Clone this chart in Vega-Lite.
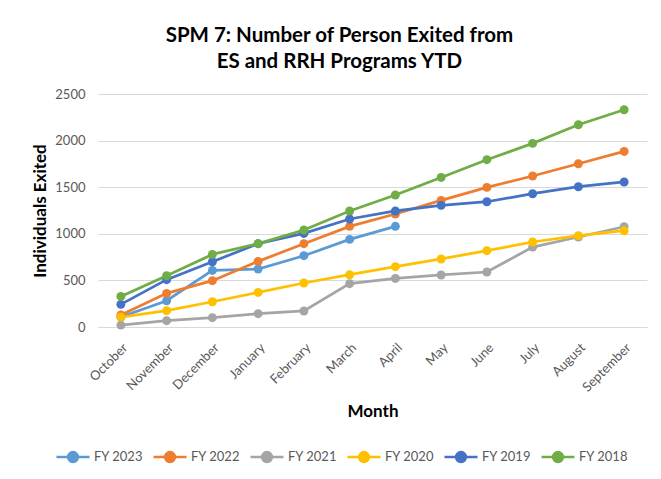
{
  "$schema": "https://vega.github.io/schema/vega-lite/v6.json",
  "width": 549,
  "height": 233,
  "autosize": {"type": "none"},
  "padding": {"left": 98, "top": 94, "right": 14, "bottom": 152},
  "background": "white",
  "title": {
    "text": ["SPM 7: Number of Person Exited from", "ES and RRH Programs YTD"],
    "frame": "bounds",
    "anchor": "middle",
    "font": "Lato",
    "fontSize": 20.5,
    "fontWeight": "bold",
    "color": "#000000",
    "lineHeight": 26,
    "offset": 16
  },
  "config": {
    "view": {"stroke": null},
    "font": "Lato"
  },
  "data": {
    "values": [
      {"month": "October", "series": "FY 2023", "value": 107},
      {"month": "November", "series": "FY 2023", "value": 282},
      {"month": "December", "series": "FY 2023", "value": 607},
      {"month": "January", "series": "FY 2023", "value": 622},
      {"month": "February", "series": "FY 2023", "value": 765},
      {"month": "March", "series": "FY 2023", "value": 940},
      {"month": "April", "series": "FY 2023", "value": 1080},

      {"month": "October", "series": "FY 2022", "value": 129},
      {"month": "November", "series": "FY 2022", "value": 361},
      {"month": "December", "series": "FY 2022", "value": 497},
      {"month": "January", "series": "FY 2022", "value": 704},
      {"month": "February", "series": "FY 2022", "value": 894},
      {"month": "March", "series": "FY 2022", "value": 1080},
      {"month": "April", "series": "FY 2022", "value": 1212},
      {"month": "May", "series": "FY 2022", "value": 1358},
      {"month": "June", "series": "FY 2022", "value": 1498},
      {"month": "July", "series": "FY 2022", "value": 1620},
      {"month": "August", "series": "FY 2022", "value": 1752},
      {"month": "September", "series": "FY 2022", "value": 1884},

      {"month": "October", "series": "FY 2021", "value": 21},
      {"month": "November", "series": "FY 2021", "value": 68},
      {"month": "December", "series": "FY 2021", "value": 100},
      {"month": "January", "series": "FY 2021", "value": 143},
      {"month": "February", "series": "FY 2021", "value": 172},
      {"month": "March", "series": "FY 2021", "value": 465},
      {"month": "April", "series": "FY 2021", "value": 521},
      {"month": "May", "series": "FY 2021", "value": 558},
      {"month": "June", "series": "FY 2021", "value": 590},
      {"month": "July", "series": "FY 2021", "value": 858},
      {"month": "August", "series": "FY 2021", "value": 966},
      {"month": "September", "series": "FY 2021", "value": 1076},

      {"month": "October", "series": "FY 2020", "value": 107},
      {"month": "November", "series": "FY 2020", "value": 175},
      {"month": "December", "series": "FY 2020", "value": 271},
      {"month": "January", "series": "FY 2020", "value": 371},
      {"month": "February", "series": "FY 2020", "value": 472},
      {"month": "March", "series": "FY 2020", "value": 561},
      {"month": "April", "series": "FY 2020", "value": 647},
      {"month": "May", "series": "FY 2020", "value": 730},
      {"month": "June", "series": "FY 2020", "value": 819},
      {"month": "July", "series": "FY 2020", "value": 912},
      {"month": "August", "series": "FY 2020", "value": 980},
      {"month": "September", "series": "FY 2020", "value": 1033},

      {"month": "October", "series": "FY 2019", "value": 243},
      {"month": "November", "series": "FY 2019", "value": 508},
      {"month": "December", "series": "FY 2019", "value": 700},
      {"month": "January", "series": "FY 2019", "value": 894},
      {"month": "February", "series": "FY 2019", "value": 1004},
      {"month": "March", "series": "FY 2019", "value": 1159},
      {"month": "April", "series": "FY 2019", "value": 1245},
      {"month": "May", "series": "FY 2019", "value": 1305},
      {"month": "June", "series": "FY 2019", "value": 1344},
      {"month": "July", "series": "FY 2019", "value": 1430},
      {"month": "August", "series": "FY 2019", "value": 1505},
      {"month": "September", "series": "FY 2019", "value": 1556},

      {"month": "October", "series": "FY 2018", "value": 328},
      {"month": "November", "series": "FY 2018", "value": 550},
      {"month": "December", "series": "FY 2018", "value": 779},
      {"month": "January", "series": "FY 2018", "value": 894},
      {"month": "February", "series": "FY 2018", "value": 1041},
      {"month": "March", "series": "FY 2018", "value": 1245},
      {"month": "April", "series": "FY 2018", "value": 1416},
      {"month": "May", "series": "FY 2018", "value": 1605},
      {"month": "June", "series": "FY 2018", "value": 1795},
      {"month": "July", "series": "FY 2018", "value": 1970},
      {"month": "August", "series": "FY 2018", "value": 2170},
      {"month": "September", "series": "FY 2018", "value": 2331}
    ]
  },
  "encoding": {
    "x": {
      "field": "month",
      "type": "nominal",
      "sort": ["October", "November", "December", "January", "February", "March", "April", "May", "June", "July", "August", "September"],
      "scale": {"type": "point", "padding": 0.5},
      "axis": {
        "title": "Month",
        "titleFont": "Lato",
        "titleFontSize": 17,
        "titleFontWeight": "bold",
        "titleColor": "#000000",
        "titlePadding": 9,
        "labelAngle": -45,
        "labelFont": "Lato",
        "labelFontSize": 13,
        "labelColor": "#595959",
        "labelPadding": 14,
        "ticks": false,
        "domain": true,
        "domainColor": "#D9D9D9",
        "grid": false
      }
    },
    "y": {
      "field": "value",
      "type": "quantitative",
      "scale": {"domain": [0, 2500]},
      "axis": {
        "title": "Individuals Exited",
        "titleFont": "Lato",
        "titleFontSize": 17,
        "titleFontWeight": "bold",
        "titleColor": "#000000",
        "titlePadding": 5,
        "values": [0, 500, 1000, 1500, 2000, 2500],
        "format": "d",
        "labelFont": "Lato",
        "labelFontSize": 13,
        "labelColor": "#595959",
        "labelPadding": 13,
        "ticks": false,
        "domain": false,
        "grid": true,
        "gridColor": "#D9D9D9",
        "gridWidth": 1
      }
    },
    "color": {
      "field": "series",
      "type": "nominal",
      "scale": {
        "domain": ["FY 2023", "FY 2022", "FY 2021", "FY 2020", "FY 2019", "FY 2018"],
        "range": ["#5B9BD5", "#ED7D31", "#A5A5A5", "#FFC000", "#4472C4", "#70AD47"]
      },
      "legend": {
        "title": null,
        "orient": "none",
        "direction": "horizontal",
        "legendX": -43,
        "legendY": 345,
        "labelFont": "Lato",
        "labelFontSize": 13,
        "labelColor": "#595959",
        "labelOffset": 3,
        "columnPadding": 5,
        "symbolType": "M-1,0H1M-0.3,0A0.3,0.3,0,1,0,0.3,0A0.3,0.3,0,1,0,-0.3,0Z",
        "symbolSize": 1089,
        "symbolStrokeWidth": 2.5,
        "encode": {
          "symbols": {
            "update": {
              "fill": {"scale": "color", "field": "value"},
              "stroke": {"scale": "color", "field": "value"},
              "opacity": {"value": 1}
            }
          }
        }
      }
    }
  },
  "layer": [
    {
      "mark": {"type": "line", "strokeWidth": 2.75}
    },
    {
      "mark": {"type": "point", "filled": true, "size": 80, "opacity": 1}
    }
  ]
}
